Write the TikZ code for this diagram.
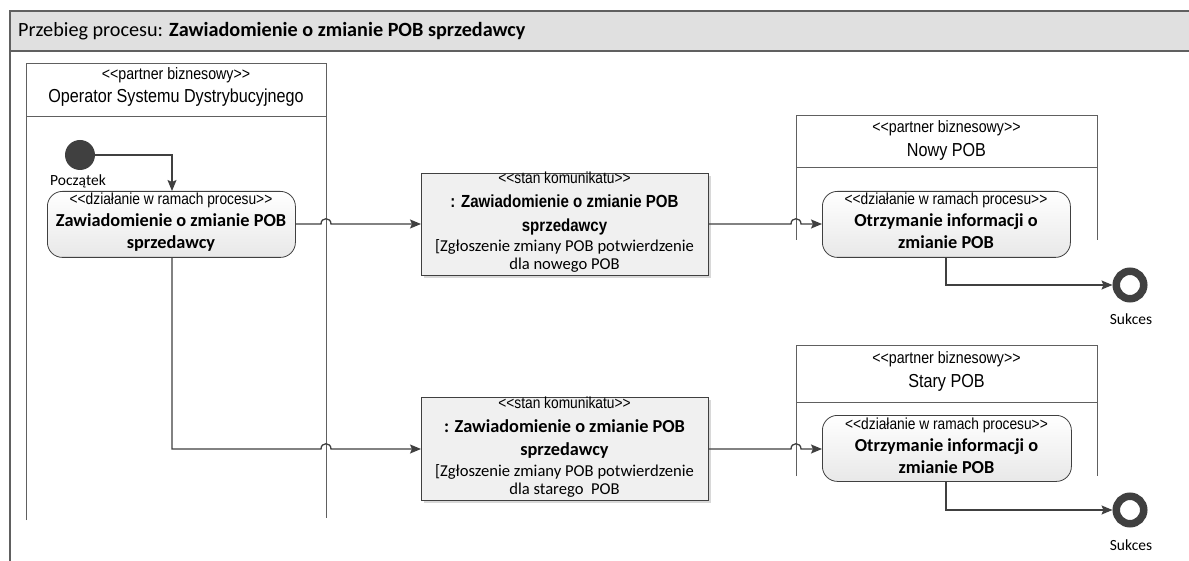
\documentclass[tikz,border=0pt]{standalone}
\usepackage{fontspec}
\setmainfont{Carlito}
\newfontfamily\narrowfont[FakeStretch=0.86]{Liberation Sans}
\usetikzlibrary{arrows.meta,shadows}
\definecolor{linec}{HTML}{404040}
\definecolor{lanec}{HTML}{606060}
\definecolor{headfill}{HTML}{E0E0E0}
\definecolor{msgfill}{HTML}{F0F0F0}
\tikzset{
  lanestyle/.style={draw=lanec, line width=0.9pt},
  actbox/.style={draw=linec, line width=0.8pt, rounded corners=15pt, top color=white, bottom color=black!9, inner sep=0pt, anchor=north west},
  msgbox/.style={draw=linec, line width=0.8pt, fill=msgfill, inner sep=0pt, anchor=north west, drop shadow={shadow xshift=2.5pt, shadow yshift=-2.5pt, fill=black!25, opacity=0.6}},
  flow/.style={draw=linec, line width=1.3pt, -{Stealth[length=11pt,width=9pt,inset=2pt]}},
  txt/.style={inner sep=0pt, anchor=base},
  stereo/.style={txt, font=\narrowfont\fontsize{16}{16}\selectfont},
  lanest/.style={txt, font=\narrowfont\fontsize{16.5}{16.5}\selectfont},
  stereosm/.style={txt, font=\narrowfont\fontsize{16}{16}\selectfont},
  lanename/.style={txt, font=\narrowfont\fontsize{18.8}{18.8}\selectfont},
  boldtxt/.style={txt, font=\bfseries\fontsize{18.3}{18.3}\selectfont},
  boldnarrow/.style={txt, font=\narrowfont\bfseries\fontsize{17.5}{17.5}\selectfont},
  normtxt/.style={txt, font=\fontsize{16.6}{16.6}\selectfont},
  smalltxt/.style={txt, font=\fontsize{15.5}{15.5}\selectfont},
  endnode/.style={circle, draw=linec, line width=7.5pt, fill=white, minimum size=27.5pt, inner sep=0pt},
}
\begin{document}
\begin{tikzpicture}[x=1pt,y=-1pt]
\useasboundingbox (0,0) rectangle (1189,561);
% frame
\fill[white] (0,0) rectangle (1189,561);
\path[fill=headfill] (10,11) rectangle (1195,51);
\draw[lanec, line width=1.3pt] (1195,11) -- (10,11) -- (10,561);
\draw[lanec, line width=1.3pt] (10,51) -- (1195,51);
\node[txt, anchor=base west, font=\fontsize{20.2}{20.2}\selectfont] (title) at (18,37) {Przebieg procesu: \textbf{Zawiadomienie o zmianie POB sprzedawcy}};

% lane OSD
\draw[lanestyle] (26,520) -- (26,63) -- (326,63) -- (326,518);
\draw[lanestyle] (26,116) -- (326,116);
\node[lanest] (osdst) at (176,80) {<<partner biznesowy>>};
\node[lanename] (osdname) at (176,103) {Operator Systemu Dystrybucyjnego};

% lane Nowy POB
\draw[lanestyle] (796,240) -- (796,115) -- (1097,115) -- (1097,240);
\draw[lanestyle] (796,167) -- (1097,167);
\node[lanest] (nst) at (946.5,133) {<<partner biznesowy>>};
\node[lanename] (nname) at (946.5,157) {Nowy POB};

% lane Stary POB
\draw[lanestyle] (796,476) -- (796,345) -- (1097,345) -- (1097,476);
\draw[lanestyle] (796,402) -- (1097,402);
\node[lanest] (sst) at (946.5,363) {<<partner biznesowy>>};
\node[lanename] (sname) at (946.5,387) {Stary POB};

% start
\node[circle, fill=linec, minimum size=30pt, inner sep=0pt] (start) at (80,155) {};
\node[smalltxt] (startlbl) at (78,186) {Początek};

% activity 1
\node[actbox, minimum width=248pt, minimum height=66pt] (a1) at (47,191) {};
\node[stereo] (a1s) at (171,205) {<<działanie w ramach procesu>>};
\node[boldtxt] (a1l1) at (171,227) {Zawiadomienie o zmianie POB};
\node[boldtxt] (a1l2) at (171,249) {sprzedawcy};

% message 1
\node[msgbox, minimum width=287pt, minimum height=102pt] (m1) at (421,173) {};
\node[stereosm] (m1s) at (564.5,184) {<<stan komunikatu>>};
\node[boldnarrow] (m1l1) at (564.5,208) {: Zawiadomienie o zmianie POB};
\node[boldnarrow] (m1l2) at (564.5,231.5) {sprzedawcy};
\node[normtxt] (m1l3) at (564.5,252) {[Zgłoszenie zmiany POB potwierdzenie};
\node[normtxt] (m1l4) at (564.5,270) {dla nowego POB};

% activity 2
\node[actbox, minimum width=248pt, minimum height=66pt] (a2) at (822,191) {};
\node[stereo] (a2s) at (946,205) {<<działanie w ramach procesu>>};
\node[boldtxt] (a2l1) at (946,227) {Otrzymanie informacji o};
\node[boldtxt] (a2l2) at (946,249) {zmianie POB};

% message 2
\node[msgbox, minimum width=287pt, minimum height=103pt] (m2) at (421,397) {};
\node[stereosm] (m2s) at (564.5,408) {<<stan komunikatu>>};
\node[boldtxt] (m2l1) at (564.5,432) {: Zawiadomienie o zmianie POB};
\node[boldtxt] (m2l2) at (564.5,455.5) {sprzedawcy};
\node[normtxt] (m2l3) at (564.5,476) {[Zgłoszenie zmiany POB potwierdzenie};
\node[normtxt] (m2l4) at (564.5,494) {dla starego\ \ POB};

% activity 3
\node[actbox, minimum width=249pt, minimum height=66pt] (a3) at (822,415) {};
\node[stereo] (a3s) at (946.5,429) {<<działanie w ramach procesu>>};
\node[boldtxt] (a3l1) at (946.5,451) {Otrzymanie informacji o};
\node[boldtxt] (a3l2) at (946.5,473) {zmianie POB};

% end nodes
\node[endnode] (e1) at (1130,285) {};
\node[smalltxt] (e1l) at (1131,325) {Sukces};
\node[endnode] (e2) at (1130,510) {};
\node[smalltxt] (e2l) at (1131,550) {Sukces};

% connectors
\draw[flow] (start.east) -| (a1.north -| 172,0);
\draw[flow] (a1.east |- 0,224) -- (321,224) .. controls (321,217) and (331,217) .. (331,224) -- (m1.west |- 0,224);
\draw[flow] (m1.east |- 0,224) -- (791,224) .. controls (791,217) and (801,217) .. (801,224) -- (a2.west |- 0,224);
\draw[flow] (a2.south -| 946,0) |- (e1.west);
\draw[flow] (a1.south -| 172,0) -- (172,449) -- (321,449) .. controls (321,442) and (331,442) .. (331,449) -- (m2.west |- 0,449);
\draw[flow] (m2.east |- 0,449) -- (791,449) .. controls (791,442) and (801,442) .. (801,449) -- (a3.west |- 0,449);
\draw[flow] (a3.south -| 946,0) |- (e2.west);
\end{tikzpicture}
\end{document}
